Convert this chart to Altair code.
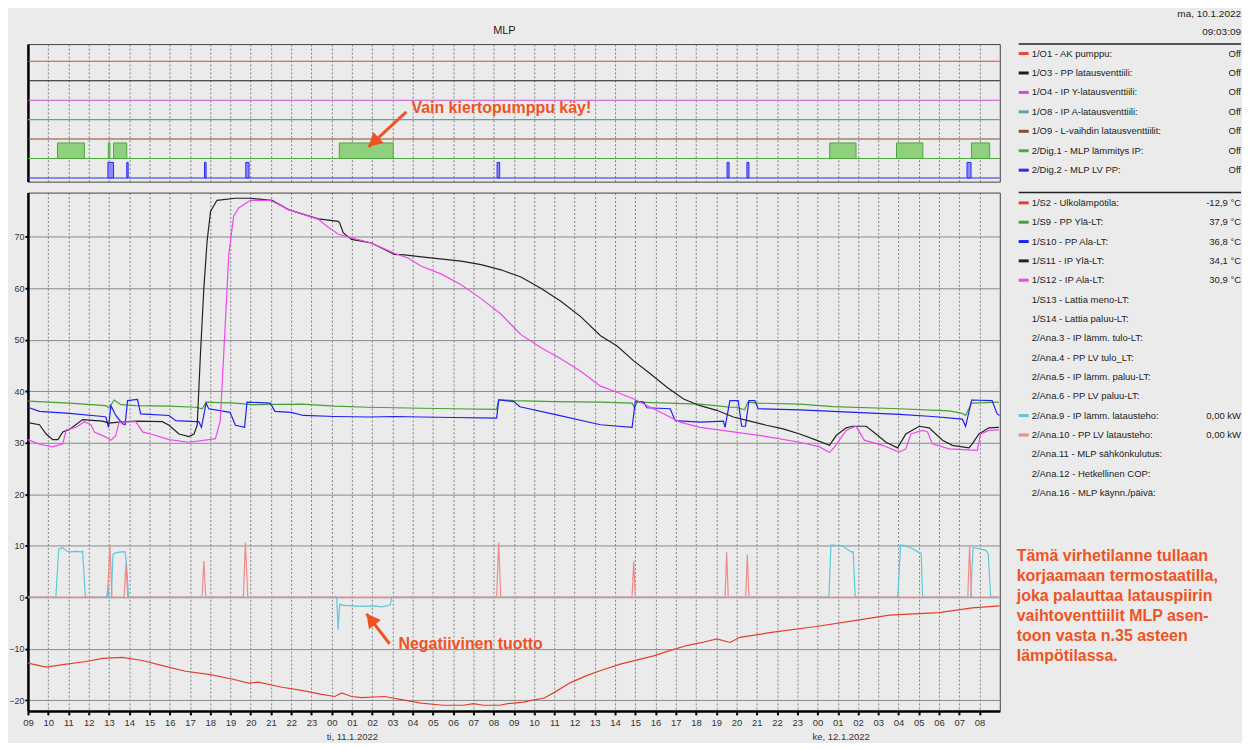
import altair as alt
import pandas as pd

BG = "#ebebeb"
FONT = "Liberation Sans"
ORANGE = "#ee5324"
W = 975
H_TOP = 138
H_MAIN = 520
LEG_W = 233

# ---------- axis data (hours since 10.1.2022 09:00) ----------
HOURS = list(range(48))
Y_TICKS = [-20, -10, 0, 10, 20, 30, 40, 50, 60, 70]
DATE_H = [15, 39]
DATE_LABELS = ["ti, 11.1.2022", "ke, 12.1.2022"]

# ---------- 1/S2 Ulkolämpötila ----------
s2_h = [0, 0.9, 1.72, 2.87, 3.69, 4.67, 5.66, 6.64, 7.79, 8.93,
        10.08, 10.9, 11.39, 12.54, 13.52, 14.51, 15.16, 15.49, 15.98, 16.48,
        17.62, 18.44, 19.43, 20.5, 21.5, 22.0, 22.5, 23.3, 23.7, 24.5,
        24.8, 25.5, 26.0, 26.8, 27.62, 28.4, 29.26, 30.1, 30.9, 31.7,
        32.54, 33.3, 34.02, 34.68, 35.17, 36.81, 38.94, 40.9, 42.55, 45.0,
        46.64, 48.0]
s2_v = [-12.8, -13.6, -13.1, -12.5, -11.9, -11.7, -12.3, -13.3, -14.4, -15.0,
        -15.9, -16.7, -16.5, -17.5, -18.1, -18.9, -19.3, -18.6, -19.3, -19.5,
        -19.3, -19.9, -20.6, -21.0, -21.0, -20.7, -21.0, -21.0, -20.7, -20.4,
        -20.1, -19.6, -18.5, -16.6, -15.2, -14.1, -13.0, -12.2, -11.4, -10.4,
        -9.4, -8.8, -8.1, -8.8, -7.8, -6.8, -5.7, -4.5, -3.5, -3.0,
        -2.1, -1.7]

# ---------- 1/S9 PP Ylä-LT ----------
s9_h = [0, 2.05, 3.85, 4.0, 4.26, 4.59, 5.33, 6.97, 8.28, 8.61,
        8.8, 10.25, 11.07, 13.52, 15.16, 16.8, 19.43, 21.0, 23.15, 23.25,
        24.0, 26.0, 28.28, 29.84, 29.97, 30.08, 33.2, 34.43, 34.6, 35.0,
        35.4, 35.55, 36.0, 38.12, 39.76, 43.03, 45.5, 46.15, 46.31, 46.61,
        47.95]
s9_v = [38.1, 37.7, 37.2, 36.8, 38.3, 37.4, 37.2, 37.1, 36.9, 36.6,
        37.9, 37.7, 37.4, 37.5, 37.1, 36.9, 36.7, 36.6, 36.5, 38.4,
        38.2, 38.0, 37.9, 37.7, 36.8, 37.9, 37.5, 37.0, 36.9, 36.9,
        36.4, 37.9, 37.7, 37.5, 37.0, 36.6, 36.2, 35.7, 35.3, 37.7,
        37.9]

# ---------- 1/S10 PP Ala-LT ----------
s10_h = [0, 0.57, 2.05, 3.69, 3.85, 3.98, 4.1, 4.34, 4.67, 4.8,
         4.92, 5.41, 5.57, 6.97, 7.3, 8.28, 8.44, 8.57, 8.8, 8.93,
         9.98, 10.25, 10.7, 10.82, 11.97, 12.2, 13.0, 13.6, 15.16, 16.8,
         18.1, 19.43, 21.0, 23.15, 23.25, 24.0, 24.3, 26.0, 28.28, 29.84,
         30.0, 30.41, 30.57, 31.72, 31.97, 33.2, 34.35, 34.43, 34.67, 35.08,
         35.25, 35.44, 35.61, 35.9, 36.07, 38.12, 39.76, 43.03, 44.67, 46.15,
         46.31, 46.61, 47.62, 47.87, 48.0]
s10_v = [36.9, 36.1, 35.7, 35.1, 35.0, 33.0, 37.2, 35.3, 33.7, 33.5,
         38.2, 38.4, 35.6, 35.3, 34.3, 34.1, 34.1, 33.0, 37.7, 36.6,
         35.9, 33.4, 33.0, 37.9, 37.7, 36.1, 35.9, 35.3, 35.1, 35.0,
         35.1, 35.0, 34.9, 34.8, 38.3, 38.0, 37.0, 35.5, 33.5, 33.0,
         38.1, 37.9, 36.8, 36.6, 34.3, 34.0, 34.2, 33.0, 38.2, 38.2,
         33.2, 33.2, 38.2, 38.2, 36.6, 36.4, 36.1, 35.5, 35.1, 34.6,
         33.2, 38.3, 38.2, 35.6, 35.3]

# ---------- 1/S11 IP Ylä-LT ----------
s11_h = [0, 0.57, 0.9, 1.23, 1.48, 1.72, 2.05, 2.7, 3.69, 4.0,
         4.5, 5.33, 6.64, 6.97, 7.46, 7.95, 8.2, 8.36, 8.52, 8.69,
         8.85, 9.02, 9.34, 10.25, 10.98, 12.05, 12.87, 14.34, 15.33, 15.4,
         15.57, 15.98, 16.97, 18.1, 18.6, 19.43, 21.4, 22.38, 23.36, 24.35,
         25.33, 26.32, 27.3, 28.28, 29.1, 29.92, 30.74, 31.56, 32.38, 33.2,
         34.02, 34.84, 35.66, 36.48, 37.3, 38.12, 38.94, 39.59, 39.92, 40.41,
         40.74, 41.4, 41.89, 42.38, 42.95, 43.36, 44.02, 44.51, 45.17, 45.66,
         46.48, 46.64, 46.97, 47.46, 47.95]
s11_v = [33.9, 33.5, 31.7, 30.6, 30.6, 32.1, 32.6, 34.5, 34.2, 33.8,
         34.0, 34.2, 34.1, 33.4, 31.7, 31.2, 31.7, 33.4, 47.2, 60.1,
         69.2, 75.0, 77.1, 77.5, 77.5, 77.1, 75.3, 73.5, 73.0, 72.7,
         70.8, 69.5, 68.8, 66.6, 66.5, 66.1, 65.3, 64.6, 63.6, 62.2,
         60.0, 57.5, 54.5, 50.8, 48.8, 45.9, 43.4, 40.8, 38.5, 37.2,
         36.3, 35.0, 34.2, 33.4, 32.7, 31.7, 30.5, 29.5, 31.4, 32.9,
         33.2, 33.2, 31.7, 30.1, 29.0, 31.7, 33.2, 32.9, 30.5, 29.5,
         29.0, 29.8, 31.7, 32.9, 33.0]

# ---------- 1/S12 IP Ala-LT ----------
s12_h = [0, 0.57, 1.23, 1.72, 1.89, 2.38, 2.79, 3.11, 3.28, 3.85,
         4.1, 4.34, 4.5, 5.33, 5.66, 6.15, 6.97, 7.95, 8.93, 9.26,
         9.5, 9.67, 9.92, 10.16, 10.41, 10.98, 11.97, 12.87, 14.34, 14.75,
         15.33, 15.98, 16.97, 18.1, 18.77, 19.43, 20.4, 21.4, 22.38, 23.36,
         24.1, 24.35, 25.33, 26.32, 27.3, 28.28, 29.1, 29.92, 30.74, 31.56,
         32.21, 33.2, 34.84, 36.48, 38.12, 39.1, 39.59, 39.84, 40.41, 40.9,
         41.31, 42.21, 43.03, 43.36, 43.61, 44.18, 44.43, 44.67, 45.5, 46.89,
         47.05, 47.46, 47.95]
s12_v = [30.6, 29.7, 29.2, 29.8, 32.5, 33.0, 34.1, 33.5, 32.1, 31.1,
         30.5, 31.4, 34.0, 34.1, 32.1, 31.6, 30.6, 30.1, 30.6, 30.8,
         34.3, 47.2, 66.6, 74.0, 75.6, 77.1, 77.1, 75.3, 73.4, 72.1,
         70.5, 69.8, 68.8, 66.8, 65.9, 64.3, 62.8, 60.7, 58.0, 55.0,
         52.0, 51.0, 48.5, 46.3, 43.9, 41.0, 39.8, 38.5, 36.9, 35.3,
         34.0, 33.0, 32.1, 31.2, 30.1, 29.2, 28.1, 29.2, 32.4, 33.2,
         30.5, 29.5, 28.2, 28.8, 31.7, 32.4, 32.1, 29.8, 28.8, 28.5,
         31.7, 32.4, 32.5]

# ---------- 2/Ana.9 IP lämm. latausteho (kW) ----------
a9_h = [0, 1.38, 1.52, 1.72, 1.9, 2.05, 2.4, 2.6, 2.7, 2.84,
        3.9, 3.95, 4.0, 4.12, 4.2, 4.34, 4.6, 4.8, 4.87, 4.97,
        15.25, 15.32, 15.4, 15.6, 16.0, 16.5, 17.0, 17.5, 17.9, 17.97,
        39.56, 39.66, 39.8, 40.3, 40.66, 40.76, 40.86, 42.96, 43.1, 43.2,
        43.6, 44.0, 44.12, 44.19, 46.56, 46.68, 47.0, 47.3, 47.43, 47.55,
        48.0]
a9_v = [0, 0, 9.3, 9.6, 9.0, 8.8, 8.9, 8.8, 8.9, 0,
        0, 2.2, 0, 0, 8.3, 8.6, 8.8, 8.8, 6.4, 0,
        0, -6.3, -1.4, -1.6, -1.7, -1.8, -1.7, -1.9, -1.5, 0,
        0, 10.1, 10.1, 9.8, 8.8, 8.8, 0, 0, 10.1, 10.1,
        9.6, 8.7, 8.5, 0, 0, 9.6, 9.4, 9.1, 8.5, 0,
        0]

# ---------- 2/Ana.10 PP LV latausteho (kW) ----------
a10_h = [0, 3.93, 4.05, 4.15, 4.75, 4.84, 4.93, 8.6, 8.69, 8.78,
         10.64, 10.74, 10.86, 23.15, 23.25, 23.35, 29.84, 29.92, 30.0, 34.43,
         34.51, 34.59, 35.45, 35.53, 35.61, 46.42, 46.51, 46.6, 48.0]
a10_v = [0, 0, 10.1, 0, 0, 6.4, 0, 0, 7.0, 0,
         0, 10.6, 0, 0, 10.6, 0, 0, 7.0, 0, 0,
         8.7, 0, 0, 8.3, 0, 0, 10.1, 0, 0]

# ---------- digital channels (top panel) ----------
TOP_LEVELS = [6, 5, 4, 3, 2, 1, 0]
TOP_COLORS = ["#e8453c", "#1a1a1a", "#d04ed0", "#58a6a6", "#8b4a2b", "#4caa3c", "#2b2bf0"]
DIG1_START = [1.46, 3.97, 4.23, 15.38, 39.6, 42.9, 46.6]
DIG1_END = [2.79, 4.05, 4.88, 18.04, 40.9, 44.2, 47.5]
DIG2_START = [3.95, 4.88, 8.72, 10.76, 23.17, 34.53, 35.51, 46.38]
DIG2_END = [4.23, 4.95, 8.8, 10.92, 23.3, 34.63, 35.61, 46.58]

# ---------- legend texts ----------
TOP_LEG_LABELS = ["1/O1 - AK pumppu:", "1/O3 - PP latausventtiili:", "1/O4 - IP Y-latausventtiili:",
                  "1/O8 - IP A-latausventtiili:", "1/O9 - L-vaihdin latausventtiilit:",
                  "2/Dig.1 - MLP lämmitys IP:", "2/Dig.2 - MLP LV PP:"]
TOP_LEG_VALUES = ["Off", "Off", "Off", "Off", "Off", "Off", "Off"]
C_S2, C_S9, C_S10, C_S11, C_S12 = "#e2402f", "#45a035", "#2020f0", "#222222", "#ee48ee"
C_A9, C_A10 = "#5cc8dc", "#f08a8a"
MAIN_LEG_LABELS = ["1/S2 - Ulkolämpötila:", "1/S9 - PP Ylä-LT:", "1/S10 - PP Ala-LT:", "1/S11 - IP Ylä-LT:",
                   "1/S12 - IP Ala-LT:", "1/S13 - Lattia meno-LT:", "1/S14 - Lattia paluu-LT:",
                   "2/Ana.3 - IP lämm. tulo-LT:", "2/Ana.4 - PP LV tulo_LT:", "2/Ana.5 - IP lämm. paluu-LT:",
                   "2/Ana.6 - PP LV paluu-LT:", "2/Ana.9 - IP lämm. latausteho:", "2/Ana.10 - PP LV latausteho:",
                   "2/Ana.11 - MLP sähkönkulutus:", "2/Ana.12 - Hetkellinen COP:", "2/Ana.16 - MLP käynn./päivä:"]
MAIN_LEG_VALUES = ["-12,9 °C", "37,9 °C", "36,8 °C", "34,1 °C", "30,9 °C", "", "", "", "", "", "",
                   "0,00 kW", "0,00 kW", "", "", ""]
MAIN_LEG_COLORS = [C_S2, C_S9, C_S10, C_S11, C_S12, "", "", "", "", "", "", C_A9, C_A10, "", "", ""]
NOTE_LINES = ["Tämä virhetilanne tullaan", "korjaamaan termostaatilla,", "joka palauttaa latauspiirin",
              "vaihtoventtiilit MLP asen-", "toon vasta n.35 asteen", "lämpötilassa."]
HEADER_DATE = "ma, 10.1.2022"
HEADER_TIME = "09:03:09"

# ---------- scales / axes ----------
xs = alt.Scale(domain=[0, 48], nice=False, zero=False)
ys_main = alt.Scale(domain=[-22.1, 78.6], nice=False, zero=False)
ys_top = alt.Scale(domain=[-0.19, 6.887], nice=False, zero=False)

label_expr = "((datum.value + 9) % 24 < 10 ? '0' : '') + ((datum.value + 9) % 24)"
x_axis_main = alt.Axis(values=HOURS, labelExpr=label_expr, grid=True, gridColor="#6a6a6a",
                       gridDash=[2, 2], gridWidth=0.8, domainColor="black", domainWidth=2.5,
                       tickColor="black", tickWidth=2, tickSize=4, labelFontSize=9.5, labelColor="#333",
                       labelPadding=3, title=None, labelOverlap=False, labelFlush=False, labelFont=FONT)
y_axis_main = alt.Axis(values=Y_TICKS, grid=True, gridColor="#8a8a8a", gridWidth=1,
                       domainColor="black", domainWidth=2.5, tickColor="black", tickWidth=2,
                       tickSize=3, labelPadding=1, labelFontSize=9, labelColor="#333",
                       labelFlush=False, title=None, labelFont=FONT)
x_axis_top = alt.Axis(values=HOURS, grid=True, gridColor="#6a6a6a", gridDash=[2, 2], gridWidth=0.8,
                      labels=False, ticks=False, domain=False, title=None)
y_axis_top = alt.Axis(values=[0], grid=False, labels=False, ticks=False, domainColor="black",
                      domainWidth=2.5, title=None)


def mx(field):
    return alt.X(field, type="quantitative", scale=xs, axis=x_axis_main)


def my(field):
    return alt.Y(field, type="quantitative", scale=ys_main, axis=y_axis_main)


def tx(field):
    return alt.X(field, type="quantitative", scale=xs, axis=x_axis_top)


def ty(field):
    return alt.Y(field, type="quantitative", scale=ys_top, axis=y_axis_top)


def line(h, v, color, width=1.2):
    df = pd.DataFrame({"h": h, "v": v})
    return alt.Chart(df).mark_line(color=color, strokeWidth=width, clip=True).encode(
        x=mx("h"), y=my("v"))


ARROW = "M0,0L0.55,1L-0.55,1Z"

# ---------- main panel ----------
arrow_main = pd.DataFrame({"x": [17.86], "y": [-9.05], "x2": [16.72], "y2": [-3.24]})
main_layers = [
    line(a9_h, a9_v, C_A9),
    line(a10_h, a10_v, C_A10),
    line(s2_h, s2_v, C_S2),
    line(s9_h, s9_v, C_S9),
    line(s10_h, s10_v, C_S10),
    line(s11_h, s11_v, C_S11),
    line(s12_h, s12_v, C_S12),
    alt.Chart(arrow_main).mark_rule(color=ORANGE, strokeWidth=3).encode(
        x=mx("x"), y=my("y"), x2="x2", y2="y2"),
    alt.Chart(arrow_main).mark_point(shape=ARROW, size=760, filled=True, opacity=1, color=ORANGE,
                                     angle=322, strokeWidth=0).encode(x=mx("x2"), y=my("y2")),
    alt.Chart(pd.DataFrame({"h": [18.3], "v": [-9.2], "t": ["Negatiivinen tuotto"]})).mark_text(
        align="left", baseline="middle", fontSize=16, fontWeight="bold", color=ORANGE, font=FONT).encode(
        x=mx("h"), y=my("v"), text="t:N"),
    alt.Chart(pd.DataFrame({"h": DATE_H, "t": DATE_LABELS})).mark_text(
        align="left", baseline="middle", fontSize=9.5, color="#333", dx=-5, font=FONT).encode(
        x=mx("h"), y=alt.value(H_MAIN + 26), text="t:N"),
]
main = alt.layer(*main_layers).properties(width=W, height=H_MAIN)

# ---------- top panel ----------
lev_df = pd.DataFrame({"lev": TOP_LEVELS, "c": TOP_COLORS})
dig1_df = pd.DataFrame({"s": DIG1_START, "e": DIG1_END})
dig2_df = pd.DataFrame({"s": DIG2_START, "e": DIG2_END})
arrow_top = pd.DataFrame({"x": [18.69], "y": [3.4], "x2": [16.82], "y2": [1.6]})
top_layers = [
    alt.Chart(pd.DataFrame({"h": [0, 48], "lev": [-0.19, -0.19]})).mark_point(opacity=0).encode(
        x=tx("h"), y=ty("lev")),
    alt.Chart(lev_df).mark_rule(strokeWidth=1.1).encode(
        x=alt.value(0), x2=alt.value(W), y=ty("lev"),
        color=alt.Color("c:N", scale=None)),
    alt.Chart(dig1_df).mark_rect(fill="#8fd07f", stroke="#4ea63e", strokeWidth=1).encode(
        x=tx("s"), x2="e", y=alt.datum(1.0), y2=alt.datum(1.8)),
    alt.Chart(dig2_df).mark_rect(fill="#8a8aff", stroke="#2b2bf0", strokeWidth=1).encode(
        x=tx("s"), x2="e", y=alt.datum(0.0), y2=alt.datum(0.8)),
    alt.Chart(arrow_top).mark_rule(color=ORANGE, strokeWidth=3).encode(
        x=tx("x"), y=ty("y"), x2="x2", y2="y2"),
    alt.Chart(arrow_top).mark_point(shape=ARROW, size=760, filled=True, opacity=1, color=ORANGE,
                                    angle=227, strokeWidth=0).encode(x=tx("x2"), y=ty("y2")),
    alt.Chart(pd.DataFrame({"h": [18.94], "v": [3.6], "t": ["Vain kiertopumppu käy!"]})).mark_text(
        align="left", baseline="middle", fontSize=16, fontWeight="bold", color=ORANGE, font=FONT).encode(
        x=tx("h"), y=ty("v"), text="t:N"),
    alt.Chart(pd.DataFrame({"t": ["MLP"]})).mark_text(
        align="center", baseline="middle", fontSize=11, color="#222", font=FONT).encode(
        x=alt.value(478), y=alt.value(-13), text="t:N"),
]
top = alt.layer(*top_layers).properties(width=W, height=H_TOP)


# ---------- legends ----------
def legend(labels, values, colors, height, d0, d1, extra=None):
    df = pd.DataFrame({"row": list(range(len(labels))), "label": labels, "value": values, "c": colors})
    ysc = alt.Scale(domain=[d0, d1], reverse=True, nice=False, zero=False)
    layers = [
        alt.Chart(pd.DataFrame({"k": [0]})).mark_rule(color="#222", strokeWidth=1.5).encode(
            x=alt.value(9), x2=alt.value(232), y=alt.value(0)),
        alt.Chart(df).transform_filter("datum.c != ''").mark_rule(strokeWidth=3).encode(
            x=alt.value(9), x2=alt.value(19), y=alt.Y("row:Q", scale=ysc, axis=None),
            color=alt.Color("c:N", scale=None)),
        alt.Chart(df).mark_text(align="left", baseline="middle", fontSize=9.5, color="#222", font=FONT).encode(
            x=alt.value(22), y=alt.Y("row:Q", scale=ysc, axis=None), text="label:N"),
        alt.Chart(df).mark_text(align="right", baseline="middle", fontSize=9.5, color="#222", font=FONT).encode(
            x=alt.value(232), y=alt.Y("row:Q", scale=ysc, axis=None), text="value:N"),
    ]
    if extra:
        layers += extra
    return alt.layer(*layers).properties(width=LEG_W, height=height,
                                         view=alt.ViewBackground(stroke=None, fill=None))


header = [
    alt.Chart(pd.DataFrame({"t": [HEADER_DATE]})).mark_text(
        align="right", baseline="middle", fontSize=10, color="#222", font=FONT).encode(
        x=alt.value(232), y=alt.value(-30), text="t:N"),
    alt.Chart(pd.DataFrame({"t": [HEADER_TIME]})).mark_text(
        align="right", baseline="middle", fontSize=10, color="#222", font=FONT).encode(
        x=alt.value(232), y=alt.value(-12), text="t:N"),
]
note = [
    alt.Chart(pd.DataFrame({"t": ["\n".join(NOTE_LINES)]})).mark_text(
        align="left", baseline="top", fontSize=16, fontWeight="bold", color=ORANGE, font=FONT,
        lineBreak="\n", lineHeight=20).encode(
        x=alt.value(7), y=alt.value(357), text="t:N"),
]

leg_top = legend(TOP_LEG_LABELS, TOP_LEG_VALUES, [c for c in TOP_COLORS], H_TOP, -0.487, 6.59, header)
leg_main = legend(MAIN_LEG_LABELS, MAIN_LEG_VALUES, MAIN_LEG_COLORS, H_MAIN, -0.531, 26.27, note)

chart = alt.concat(top, leg_top, main, leg_main, columns=2, spacing=6, align="each", padding=0).configure(
    background=BG, font=FONT
).configure_view(stroke="#444", strokeWidth=1, fill=BG)

chart.save("out.html", embed_options={"renderer": "svg", "actions": False})
